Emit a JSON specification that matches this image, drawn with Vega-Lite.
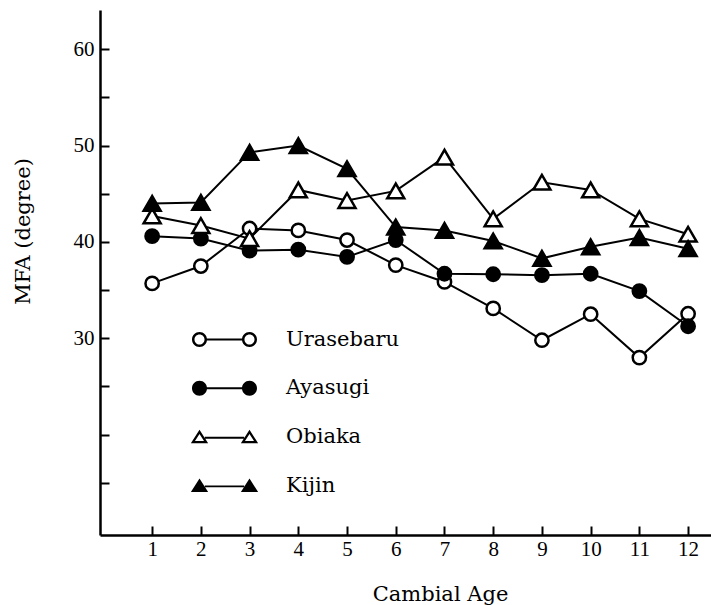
{
  "$schema": "https://vega.github.io/schema/vega-lite/v6.json",
  "width": 611,
  "height": 525,
  "autosize": "none",
  "padding": {"left": 100, "top": 10, "right": 0, "bottom": 70},
  "background": "white",
  "config": {
    "view": {"stroke": null},
    "axis": {"grid": false, "domainColor": "black", "domainWidth": 2.5, "tickColor": "black", "tickWidth": 2, "labelColor": "black", "titleColor": "black", "labelFont": "Liberation Serif", "titleFont": "DejaVu Serif", "titleFontWeight": "normal", "labelFontSize": 21, "titleFontSize": 21}
  },
  "data": {"values": [
    {"age": 1, "series": "Urasebaru", "mfa": 35.7},
    {"age": 2, "series": "Urasebaru", "mfa": 37.5},
    {"age": 3, "series": "Urasebaru", "mfa": 41.4},
    {"age": 4, "series": "Urasebaru", "mfa": 41.2},
    {"age": 5, "series": "Urasebaru", "mfa": 40.2},
    {"age": 6, "series": "Urasebaru", "mfa": 37.6},
    {"age": 7, "series": "Urasebaru", "mfa": 35.85},
    {"age": 8, "series": "Urasebaru", "mfa": 33.1},
    {"age": 9, "series": "Urasebaru", "mfa": 29.8},
    {"age": 10, "series": "Urasebaru", "mfa": 32.5},
    {"age": 11, "series": "Urasebaru", "mfa": 28.0},
    {"age": 12, "series": "Urasebaru", "mfa": 32.55},
    {"age": 1, "series": "Ayasugi", "mfa": 40.6},
    {"age": 2, "series": "Ayasugi", "mfa": 40.35},
    {"age": 3, "series": "Ayasugi", "mfa": 39.1},
    {"age": 4, "series": "Ayasugi", "mfa": 39.2},
    {"age": 5, "series": "Ayasugi", "mfa": 38.45},
    {"age": 6, "series": "Ayasugi", "mfa": 40.2},
    {"age": 7, "series": "Ayasugi", "mfa": 36.7},
    {"age": 8, "series": "Ayasugi", "mfa": 36.65},
    {"age": 9, "series": "Ayasugi", "mfa": 36.55},
    {"age": 10, "series": "Ayasugi", "mfa": 36.7},
    {"age": 11, "series": "Ayasugi", "mfa": 34.9},
    {"age": 12, "series": "Ayasugi", "mfa": 31.25},
    {"age": 1, "series": "Obiaka", "mfa": 42.7},
    {"age": 2, "series": "Obiaka", "mfa": 41.7},
    {"age": 3, "series": "Obiaka", "mfa": 40.35},
    {"age": 4, "series": "Obiaka", "mfa": 45.4},
    {"age": 5, "series": "Obiaka", "mfa": 44.3},
    {"age": 6, "series": "Obiaka", "mfa": 45.3},
    {"age": 7, "series": "Obiaka", "mfa": 48.8},
    {"age": 8, "series": "Obiaka", "mfa": 42.4},
    {"age": 9, "series": "Obiaka", "mfa": 46.2},
    {"age": 10, "series": "Obiaka", "mfa": 45.4},
    {"age": 11, "series": "Obiaka", "mfa": 42.4},
    {"age": 12, "series": "Obiaka", "mfa": 40.8},
    {"age": 1, "series": "Kijin", "mfa": 44.0},
    {"age": 2, "series": "Kijin", "mfa": 44.1},
    {"age": 3, "series": "Kijin", "mfa": 49.3},
    {"age": 4, "series": "Kijin", "mfa": 50.0},
    {"age": 5, "series": "Kijin", "mfa": 47.6},
    {"age": 6, "series": "Kijin", "mfa": 41.55},
    {"age": 7, "series": "Kijin", "mfa": 41.2},
    {"age": 8, "series": "Kijin", "mfa": 40.1},
    {"age": 9, "series": "Kijin", "mfa": 38.3},
    {"age": 10, "series": "Kijin", "mfa": 39.5},
    {"age": 11, "series": "Kijin", "mfa": 40.45},
    {"age": 12, "series": "Kijin", "mfa": 39.3}
  ]},
  "encoding": {
    "x": {"field": "age", "type": "quantitative",
      "scale": {"domain": [-0.07, 12.47], "nice": false, "zero": false},
      "axis": {"values": [1,2,3,4,5,6,7,8,9,10,11,12], "tickSize": -9, "labelPadding": 12, "labelFlush": false, "labelFont": "Liberation Serif", "labelFontSize": 21, "title": "Cambial Age", "titleX": 340, "titleY": 65, "titleBaseline": "alphabetic", "titleAnchor": null}},
    "y": {"field": "mfa", "type": "quantitative",
      "scale": {"domain": [9.58, 64.08], "nice": false, "zero": false},
      "axis": {"values": [15,20,25,30,35,40,45,50,55,60], "labelExpr": "datum.value % 10 == 0 && datum.value >= 30 ? datum.label : ''", "tickSize": -9, "labelPadding": 15, "labelFont": "Liberation Serif", "labelFontSize": 21, "title": "MFA (degree)", "titleX": -77, "titleY": 221, "titleAngle": -90, "titleAlign": "center", "titleBaseline": "middle"}}
  },
  "layer": [
    {
      "mark": {"type": "line", "stroke": "black", "strokeWidth": 2},
      "encoding": {"detail": {"field": "series", "type": "nominal"}}
    },
    {
      "mark": {"type": "point", "opacity": 0, "filled": true, "fill": "black", "strokeWidth": 0},
      "encoding": {
        "shape": {"field": "series", "type": "nominal",
          "scale": {"domain": ["Urasebaru", "Ayasugi", "Obiaka", "Kijin"], "range": [
            "M-4.333,0 C-4.333,-0.5523 -3.886,-1 -3.333,-1 C-2.781,-1 -2.333,-0.5523 -2.333,0 C-2.333,0.5523 -2.781,1 -3.333,1 C-3.886,1 -4.333,0.5523 -4.333,0 Z M-4.003,0 C-4.003,0.37 -3.703,0.67 -3.333,0.67 C-2.963,0.67 -2.663,0.37 -2.663,0 C-2.663,-0.37 -2.963,-0.67 -3.333,-0.67 C-3.703,-0.67 -4.003,-0.37 -4.003,0 Z M2.333,0 C2.333,-0.5523 2.781,-1 3.333,-1 C3.886,-1 4.333,-0.5523 4.333,0 C4.333,0.5523 3.886,1 3.333,1 C2.781,1 2.333,0.5523 2.333,0 Z M2.663,0 C2.663,0.37 2.963,0.67 3.333,0.67 C3.703,0.67 4.003,0.37 4.003,0 C4.003,-0.37 3.703,-0.67 3.333,-0.67 C2.963,-0.67 2.663,-0.37 2.663,0 Z M-2.45,-0.13 L2.45,-0.13 L2.45,0.13 L-2.45,0.13 Z",
            "M-4.333,0 C-4.333,-0.5523 -3.886,-1 -3.333,-1 C-2.781,-1 -2.333,-0.5523 -2.333,0 C-2.333,0.5523 -2.781,1 -3.333,1 C-3.886,1 -4.333,0.5523 -4.333,0 Z M2.333,0 C2.333,-0.5523 2.781,-1 3.333,-1 C3.886,-1 4.333,-0.5523 4.333,0 C4.333,0.5523 3.886,1 3.333,1 C2.781,1 2.333,0.5523 2.333,0 Z M-2.45,-0.13 L2.45,-0.13 L2.45,0.13 L-2.45,0.13 Z",
            "M-3.333,-0.95 L-2.183,0.85 L-4.483,0.85 Z M-3.333,-0.393 L-3.936,0.55 L-2.730,0.55 Z M3.333,-0.95 L4.483,0.85 L2.183,0.85 Z M3.333,-0.393 L2.730,0.55 L3.936,0.55 Z M-2.62,-0.03 L2.62,-0.03 L2.62,0.23 L-2.62,0.23 Z",
            "M-3.333,-0.95 L-2.183,0.85 L-4.483,0.85 Z M3.333,-0.95 L4.483,0.85 L2.183,0.85 Z M-2.62,-0.03 L2.62,-0.03 L2.62,0.23 L-2.62,0.23 Z"
          ]},
          "legend": {
            "title": null, "orient": "none", "legendX": 114, "legendY": 319,
            "labelFont": "DejaVu Serif", "labelFontSize": 21, "labelColor": "black",
            "labelOffset": 51, "rowPadding": 26.7, "symbolSize": 225, "symbolStrokeWidth": 0,
            "symbolFillColor": "black", "symbolOpacity": 1
          }}
      }
    },
    {
      "mark": {"type": "point", "filled": true, "opacity": 1, "stroke": "black", "strokeWidth": 2.5},
      "encoding": {
        "shape": {"condition": {"test": "datum.series == 'Obiaka' || datum.series == 'Kijin'", "value": "triangle-up"}, "value": "circle"},
        "fill": {"condition": {"test": "datum.series == 'Ayasugi' || datum.series == 'Kijin'", "value": "black"}, "value": "white"},
        "size": {"condition": {"test": "datum.series == 'Obiaka' || datum.series == 'Kijin'", "value": 289}, "value": 177}
      }
    }
  ]
}
